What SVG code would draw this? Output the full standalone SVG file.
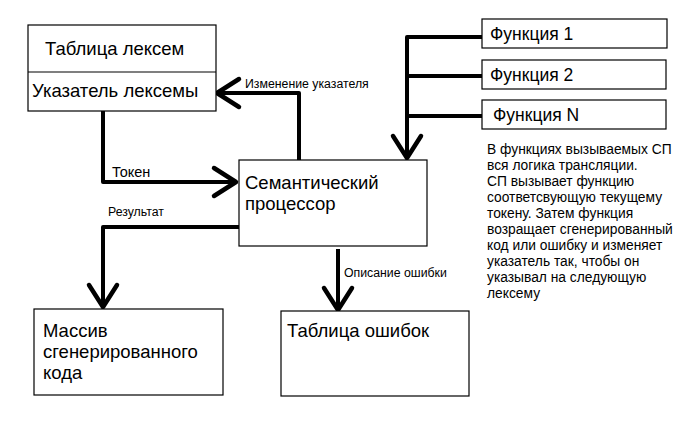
<svg xmlns="http://www.w3.org/2000/svg" width="693" height="429" viewBox="0 0 693 429">
<defs>
<style>
.box{fill:#fff;stroke:#000;stroke-width:1.2}
.lbl{font-family:"Liberation Sans",Arial,sans-serif;font-size:18.5px;fill:#000}
.fn{font-family:"Liberation Sans",Arial,sans-serif;font-size:17.5px;fill:#000}
.sm{font-family:"Liberation Sans",Arial,sans-serif;font-size:12.3px;fill:#000}
.note{font-family:"Liberation Sans",Arial,sans-serif;font-size:13.8px;fill:#000}
.ln{fill:none;stroke:#000;stroke-width:4;stroke-linejoin:round}
</style>
<marker id="ah" markerUnits="userSpaceOnUse" viewBox="-26 -18 30 36" refX="0" refY="0" markerWidth="30" markerHeight="36" orient="auto" overflow="visible">
<path d="M-22,-14 L0,0 L-22,14" fill="none" stroke="#000" stroke-width="4.5" stroke-linecap="round" stroke-linejoin="round"/>
</marker>
</defs>
<rect width="693" height="429" fill="#fff"/>
<g id="connectors">
<path class="ln" d="M103,111 V182 H236" marker-end="url(#ah)"/>
<path class="ln" d="M239,227 H103 V307" marker-end="url(#ah)"/>
<path class="ln" d="M338,249 V310" marker-end="url(#ah)"/>
<path class="ln" d="M299,160 V93 H217" marker-end="url(#ah)"/>
<path class="ln" d="M482,37 H407 V158" marker-end="url(#ah)"/>
<path class="ln" d="M482,76 H407"/>
<path class="ln" d="M482,116 H407"/>
<text class="sm" x="245" y="88">Изменение указателя</text>
<text class="sm" x="112" y="177" style="font-size:14.5px">Токен</text>
<text class="sm" x="108" y="216">Результат</text>
<text class="sm" x="344" y="277">Описание ошибки</text>
</g>
<g id="lexeme-table">
<rect class="box" x="28" y="25" width="188" height="86"/>
<line x1="28" y1="72" x2="216" y2="72" stroke="#000" stroke-width="1.2"/>
<text class="lbl" x="45" y="55">Таблица лексем</text>
<text class="lbl" x="32" y="97">Указатель лексемы</text>
</g>
<g id="processor">
<rect class="box" x="239" y="160" width="188" height="86"/>
<text class="lbl" x="245" y="189">Семантический</text>
<text class="lbl" x="245" y="210">процессор</text>
</g>
<g id="func1">
<rect class="box" x="482" y="19" width="185" height="29"/>
<text class="fn" x="490" y="40">Функция 1</text>
</g>
<g id="func2">
<rect class="box" x="482" y="60" width="184" height="29"/>
<text class="fn" x="490" y="81">Функция 2</text>
</g>
<g id="funcN">
<rect class="box" x="482" y="100" width="184" height="29"/>
<text class="fn" x="493" y="121">Функция N</text>
</g>
<g id="code-array">
<rect class="box" x="34" y="309" width="189" height="86"/>
<text class="lbl" x="43" y="337">Массив</text>
<text class="lbl" x="43" y="358">сгенерированного</text>
<text class="lbl" x="43" y="379">кода</text>
</g>
<g id="error-table">
<rect class="box" x="281" y="311" width="188" height="85"/>
<text class="lbl" x="287" y="337">Таблица ошибок</text>
</g>
<g id="note">
<text class="note" x="487" y="154">В функциях вызываемых СП</text>
<text class="note" x="487" y="170">вся логика трансляции.</text>
<text class="note" x="487" y="186">СП вызывает функцию</text>
<text class="note" x="487" y="202">соответсвующую текущему</text>
<text class="note" x="487" y="218">токену. Затем функция</text>
<text class="note" x="487" y="234">возращает сгенерированный</text>
<text class="note" x="487" y="250">код или ошибку и изменяет</text>
<text class="note" x="487" y="266">указатель так, чтобы он</text>
<text class="note" x="487" y="282">указывал на следующую</text>
<text class="note" x="487" y="298">лексему</text>
</g>
</svg>
